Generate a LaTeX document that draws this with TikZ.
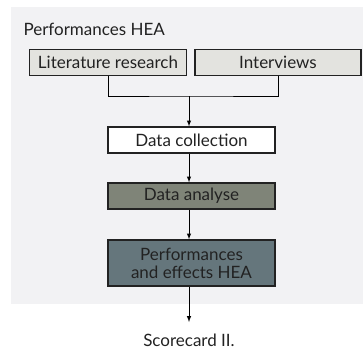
\documentclass[tikz,border=0pt]{standalone}
\usepackage{fontspec}
\setmainfont{Lato}
\usetikzlibrary{shapes,arrows}
\definecolor{panelgrey}{HTML}{F2F2F4}
\definecolor{lightbox}{HTML}{E3E3DF}
\definecolor{greenbox}{HTML}{7F8478}
\definecolor{bluebox}{HTML}{65767C}
\definecolor{inkgrey}{HTML}{222222}

\begin{document}
\begin{tikzpicture}[x=1pt,y=-1pt,nodes={font=\fontsize{17}{20}\selectfont,text=inkgrey},
    stepbox/.style={draw=inkgrey,line width=1.3pt,rectangle,minimum height=26pt,inner sep=0pt,align=center},
    flow/.style={draw=black,line width=1pt}]
    \useasboundingbox (0,0) rectangle (363,349);
    \fill [panelgrey] (11,7) rectangle (363,304);
    \node [anchor=west] (title) at (20,29) {Performances HEA};
    \node [stepbox,fill=lightbox,minimum width=157pt] (lit) at (108,62.5) {Literature research};
    \node [stepbox,fill=lightbox,minimum width=166pt] (int) at (278,62.5) {Interviews};
    \node [stepbox,fill=white,minimum width=167pt] (dc) at (191.5,140) {Data collection};
    \node [stepbox,fill=greenbox,minimum width=167pt] (da) at (191.5,196) {Data analyse};
    \node [stepbox,fill=bluebox,minimum width=167pt,minimum height=46pt] (perf) at (191.5,263) {Performances\\[-2pt]and effects HEA};
    \node [inner sep=0pt] (score) at (189,340) {Scorecard II.};
    \coordinate (join) at (189,96);
    \coordinate (out) at (189,322);
    \draw [flow] (lit.south) |- (join) -| (int.south);
    \draw [flow,-latex] (join) -- (join |- dc.north);
    \draw [flow,-latex] (join |- dc.south) -- (join |- da.north);
    \draw [flow,-latex] (join |- da.south) -- (join |- perf.north);
    \draw [flow,-latex] (join |- perf.south) -- (out);
\end{tikzpicture}
\end{document}
